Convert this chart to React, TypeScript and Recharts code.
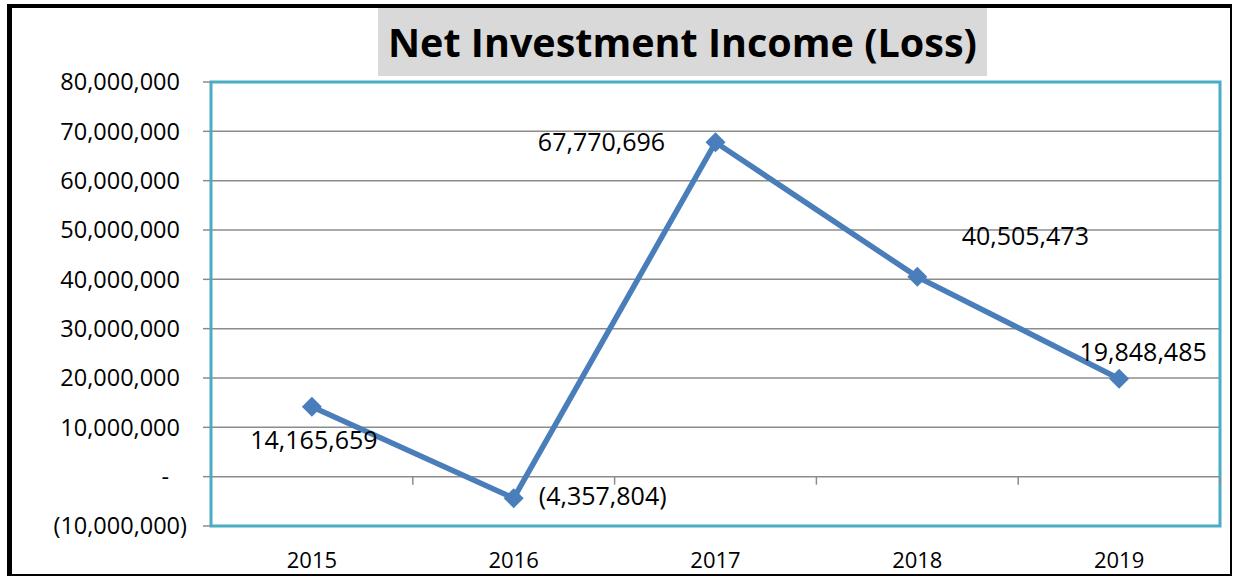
import React from "react";
import {
  LineChart,
  Line,
  XAxis,
  YAxis,
  CartesianGrid,
  ReferenceArea,
  ReferenceDot,
  LabelList,
} from "recharts";

const title = "Net Investment Income (Loss)";
const categories = ["2015", "2016", "2017", "2018", "2019"];
const values = [14165659, -4357804, 67770696, 40505473, 19848485];
const yTicks = [-10000000, 0, 10000000, 20000000, 30000000, 40000000, 50000000, 60000000, 70000000, 80000000];

// manual label placement (pixels relative to point), like the hand-placed Excel labels
const labelOffsets: [number, number][] = [
  [2, 33],
  [89, -2],
  [-114, 0],
  [108, -41],
  [24, -27],
];

const data = categories.map((c, i) => ({ x: i + 1, year: c, value: values[i] }));
const xTicks = categories.map((_, i) => i + 1);
const boundaries = categories.map((_, i) => i + 1.5);

const FONT = "'Open Sans', sans-serif";
const LINE = "#4A7EBB";
const GRID = "#8C8C8C";

const fmt = (v: number) => {
  if (v === 0) return "-";
  const s = Math.abs(v).toLocaleString("en-US");
  return v < 0 ? `(${s})` : s;
};

const YTick = (props: any) => {
  const { x, y, payload } = props;
  const v = payload.value as number;
  const dx = v < 0 ? 7 : v === 0 ? -11 : 0;
  return (
    <text x={x + dx} y={y} dy="0.355em" textAnchor="end" fontSize={23.5} fontFamily={FONT} fill="#000">
      {fmt(v)}
    </text>
  );
};

const Diamond = (props: any) => {
  const { cx, cy } = props;
  if (cx == null || cy == null) return null;
  const r = 10;
  return <path d={`M${cx},${cy - r}L${cx + r},${cy}L${cx},${cy + r}L${cx - r},${cy}Z`} fill={LINE} />;
};

const DataLabel = (props: any) => {
  const { x, y, value, index } = props;
  const [dx, dy] = labelOffsets[index];
  return (
    <text x={x + dx} y={y + dy} dy="0.355em" textAnchor="middle" fontSize={25} fontFamily={FONT} fill="#000">
      {fmt(value)}
    </text>
  );
};

const BoundaryTick = (props: any) => {
  const { cx, cy } = props;
  if (cx == null || cy == null) return null;
  return <line x1={cx} y1={cy} x2={cx} y2={cy + 8} stroke={GRID} strokeWidth={1.5} />;
};

export default function App() {
  return (
    <div style={{ position: "absolute", left: 0, top: 0, width: 1235, height: 577, background: "#fff", overflow: "hidden" }}>
      <div
        style={{
          position: "absolute",
          left: 7,
          top: 4,
          width: 1218,
          height: 566,
          borderLeft: "5px solid #000",
          borderTop: "4px solid #000",
          borderRight: "2px solid #000",
          borderBottom: "2px solid #000",
        }}
      />
      <div
        style={{
          position: "absolute",
          left: 378,
          top: 8,
          width: 609,
          height: 68,
          background: "#D9D9D9",
          display: "flex",
          alignItems: "center",
          justifyContent: "center",
          fontFamily: FONT,
          fontWeight: 700,
          fontSize: 39.5,
          color: "#000",
          whiteSpace: "nowrap",
        }}
      >
        {title}
      </div>
      <div style={{ position: "absolute", left: 0, top: 0 }}>
        <LineChart width={1235} height={577} data={data} margin={{ top: 82, right: 15, bottom: 0, left: 0 }}>
          <CartesianGrid horizontal vertical={false} stroke={GRID} strokeWidth={1.5} />
          <XAxis
            dataKey="x"
            type="number"
            domain={[0.5, 5.5]}
            ticks={xTicks}
            tickFormatter={(v: number) => categories[v - 1]}
            axisLine={false}
            tickLine={false}
            height={51}
            tickSize={0}
            tickMargin={26}
            tick={{ fontSize: 22, fontFamily: FONT, fill: "#000" }}
            interval={0}
          />
          <YAxis
            type="number"
            domain={[-10000000, 80000000]}
            ticks={yTicks}
            width={211}
            axisLine={false}
            tickLine={{ stroke: GRID, strokeWidth: 1.5 }}
            tickSize={8}
            tickMargin={23}
            tick={<YTick />}
            interval={0}
          />
          {boundaries.map((b) => (
            <ReferenceDot key={b} x={b} y={0} shape={<BoundaryTick />} ifOverflow="visible" />
          ))}
          <ReferenceArea
            x1={0.5}
            x2={5.5}
            y1={-10000000}
            y2={80000000}
            fill="none"
            stroke="#4BACC6"
            strokeWidth={3}
            ifOverflow="visible"
          />
          <Line
            type="linear"
            dataKey="value"
            stroke={LINE}
            strokeWidth={5.5}
            dot={<Diamond />}
            activeDot={false}
            isAnimationActive={false}
          >
            <LabelList dataKey="value" content={<DataLabel />} />
          </Line>
        </LineChart>
      </div>
    </div>
  );
}
